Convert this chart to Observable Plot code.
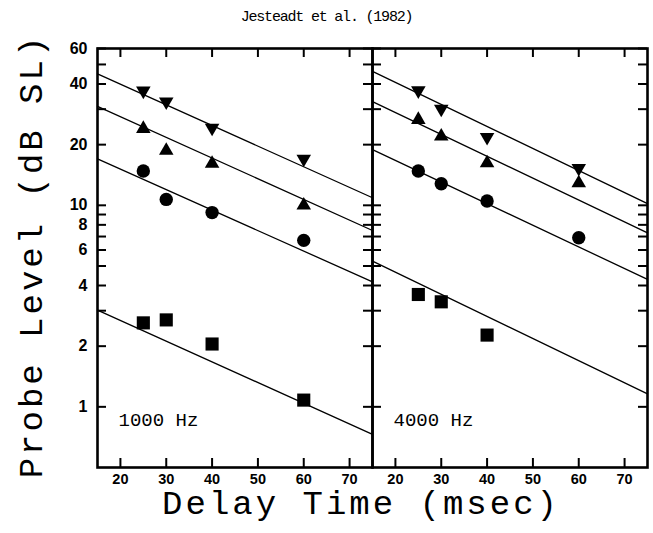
<!DOCTYPE html>
<html>
<head>
<meta charset="utf-8">
<script src="https://cdn.jsdelivr.net/npm/d3@7"></script>
<script src="https://cdn.jsdelivr.net/npm/@observablehq/plot@0.6"></script>
<style>
  body { margin: 0; background: #fff; }
  #title { height: 30px; width: 653px; text-align: center; font-family: "Liberation Mono", monospace; font-size: 15px; letter-spacing: -1.2px; line-height: 35px; overflow: visible; color: #000; }
  #chart svg { display: block; }
</style>
</head>
<body>
<div id="title">Jesteadt et al. (1982)</div>
<div id="chart"></div>
<script>
// ---- data ----
const freqs = ["1000 Hz", "4000 Hz"];
const delays = [25, 30, 40, 60];            // msec
const down1000 = [37.0, 32.7, 24.2, 17.0];  // ▼
const up1000   = [24.0, 18.7, 16.1, 10.0];  // ▲
const circ1000 = [14.8, 10.7, 9.2, 6.7];    // ●
const sq1000   = [2.61, 2.70, 2.05, 1.08];  // ■
const down4000 = [37.1, 30.1, 21.8, 15.3];
const up4000   = [26.6, 22.0, 16.2, 12.9];
const circ4000 = [14.8, 12.8, 10.5, 6.9];
const sq4000   = [3.61, 3.32, 2.27, null];
// fitted lines: level at delay 15 and 75 ms
const fitDelays = [15, 75];
const fitDown1000 = [44.9, 10.9];
const fitUp1000   = [31.0, 7.5];
const fitCirc1000 = [17.0, 4.17];
const fitSq1000   = [3.02, 0.73];
const fitDown4000 = [46.2, 10.2];
const fitUp4000   = [32.7, 7.3];
const fitCirc4000 = [18.9, 4.29];
const fitSq4000   = [5.28, 1.16];
// axis ticks
const xTicks = [20, 30, 40, 50, 60, 70];
const yTicks = [1, 2, 3, 4, 5, 6, 7, 8, 9, 10, 20, 30, 40, 50, 60];
const yLabels = [1, 2, 4, 6, 8, 10, 20, 40, 60];

// ---- tables ----
const seriesByFreq = {
  "1000 Hz": {down: down1000, up: up1000, circ: circ1000, sq: sq1000},
  "4000 Hz": {down: down4000, up: up4000, circ: circ4000, sq: sq4000}
};
const fitsByFreq = {
  "1000 Hz": {down: fitDown1000, up: fitUp1000, circ: fitCirc1000, sq: fitSq1000},
  "4000 Hz": {down: fitDown4000, up: fitUp4000, circ: fitCirc4000, sq: fitSq4000}
};
const points = [];
const fits = [];
for (const f of freqs) {
  for (const kind of ["down", "up", "circ", "sq"]) {
    seriesByFreq[f][kind].forEach((v, i) => {
      if (v != null) points.push({freq: f, kind, delay: delays[i], level: v});
    });
    fitsByFreq[f][kind].forEach((v, i) => {
      fits.push({freq: f, kind, delay: fitDelays[i], level: v});
    });
  }
}
const yTickRows = freqs.flatMap(f => yTicks.map(v => ({freq: f, v})));
const xTickRows = freqs.flatMap(f => xTicks.map(v => ({freq: f, v})));

// inverted triangle symbol
const triangleDown = {
  draw(context, size) {
    const s = Math.sqrt((4 * size) / Math.sqrt(3));
    const R = s / Math.sqrt(3);
    context.moveTo(0, R);
    context.lineTo(s / 2, -R / 2);
    context.lineTo(-s / 2, -R / 2);
    context.closePath();
  }
};

const W = 653, H = 503, mL = 97, mR = 6, mT = 18, mB = 66;
const panelW = (W - mL - mR) / freqs.length;
const panelH = H - mT - mB;
const TL = 9; // tick length (px)

const mono = "Liberation Mono, DejaVu Sans Mono, monospace";
const tk = {stroke: "black", strokeWidth: 2};

const chart = Plot.plot({
  width: W,
  height: H,
  marginTop: mT,
  marginBottom: mB,
  marginLeft: mL,
  marginRight: mR,
  style: {fontFamily: "Liberation Sans, Arial, sans-serif", color: "black", background: "white"},
  fx: {domain: freqs, padding: 0, axis: null},
  x: {domain: [15, 75], axis: null},
  y: {type: "log", domain: [0.5, 60], axis: null},
  marks: [
    Plot.line(fits, {x: "delay", y: "level", z: "kind", fx: "freq", stroke: "black", strokeWidth: 1.3}),
    Plot.dot(points.filter(d => d.kind === "down"), {x: "delay", y: "level", fx: "freq", symbol: triangleDown, r: 5.4, fill: "black"}),
    Plot.dot(points.filter(d => d.kind === "up"), {x: "delay", y: "level", fx: "freq", symbol: "triangle", r: 5.4, fill: "black"}),
    Plot.dot(points.filter(d => d.kind === "circ"), {x: "delay", y: "level", fx: "freq", symbol: "circle", r: 6.7, fill: "black"}),
    Plot.dot(points.filter(d => d.kind === "sq"), {x: "delay", y: "level", fx: "freq", symbol: "square", r: 7.4, fill: "black"}),
    // inward ticks on all four sides of each panel
    Plot.tickY(yTickRows, {fx: "freq", y: "v", insetRight: panelW - TL, ...tk}),
    Plot.tickY(yTickRows, {fx: "freq", y: "v", insetLeft: panelW - TL, ...tk}),
    Plot.tickX(xTickRows, {fx: "freq", x: "v", insetTop: panelH - TL, ...tk}),
    Plot.tickX(xTickRows, {fx: "freq", x: "v", insetBottom: panelH - TL, ...tk}),
    // tick labels
    Plot.text(yLabels, {fx: () => freqs[0], y: d => d, text: d => String(d), frameAnchor: "left", dx: -10, textAnchor: "end", lineAnchor: "middle", fontSize: 16, fontWeight: "bold"}),
    Plot.text(xTicks, {x: d => d, text: d => String(d), frameAnchor: "bottom", dy: 12, textAnchor: "middle", lineAnchor: "middle", fontSize: 14.5, fontWeight: "bold"}),
    Plot.frame({stroke: "black", strokeWidth: 2.6}),
    // panel labels
    Plot.text(freqs, {fx: d => d, text: d => d, frameAnchor: "bottom-left", dx: 21, dy: -48, textAnchor: "start", lineAnchor: "middle", fontFamily: mono, fontSize: 19}),
    // axis titles
    Plot.text(["Probe Level (dB SL)"], {fx: () => freqs[0], text: d => d, frameAnchor: "left", dx: -66, dy: -2, rotate: -90, lineAnchor: "middle", textAnchor: "middle", fontFamily: mono, fontSize: 34}),
    Plot.text(["Delay Time (msec)"], {fx: () => freqs[0], text: d => d, frameAnchor: "bottom", dx: 126, dy: 36, lineAnchor: "middle", textAnchor: "middle", fontFamily: mono, fontSize: 34})
  ]
});
d3.select(chart).selectAll("text")
  .filter(function() { return this.textContent === "Probe Level (dB SL)" || this.textContent === "Delay Time (msec)"; })
  .style("letter-spacing", "3px");
document.getElementById("chart").appendChild(chart);
</script>
</body>
</html>
